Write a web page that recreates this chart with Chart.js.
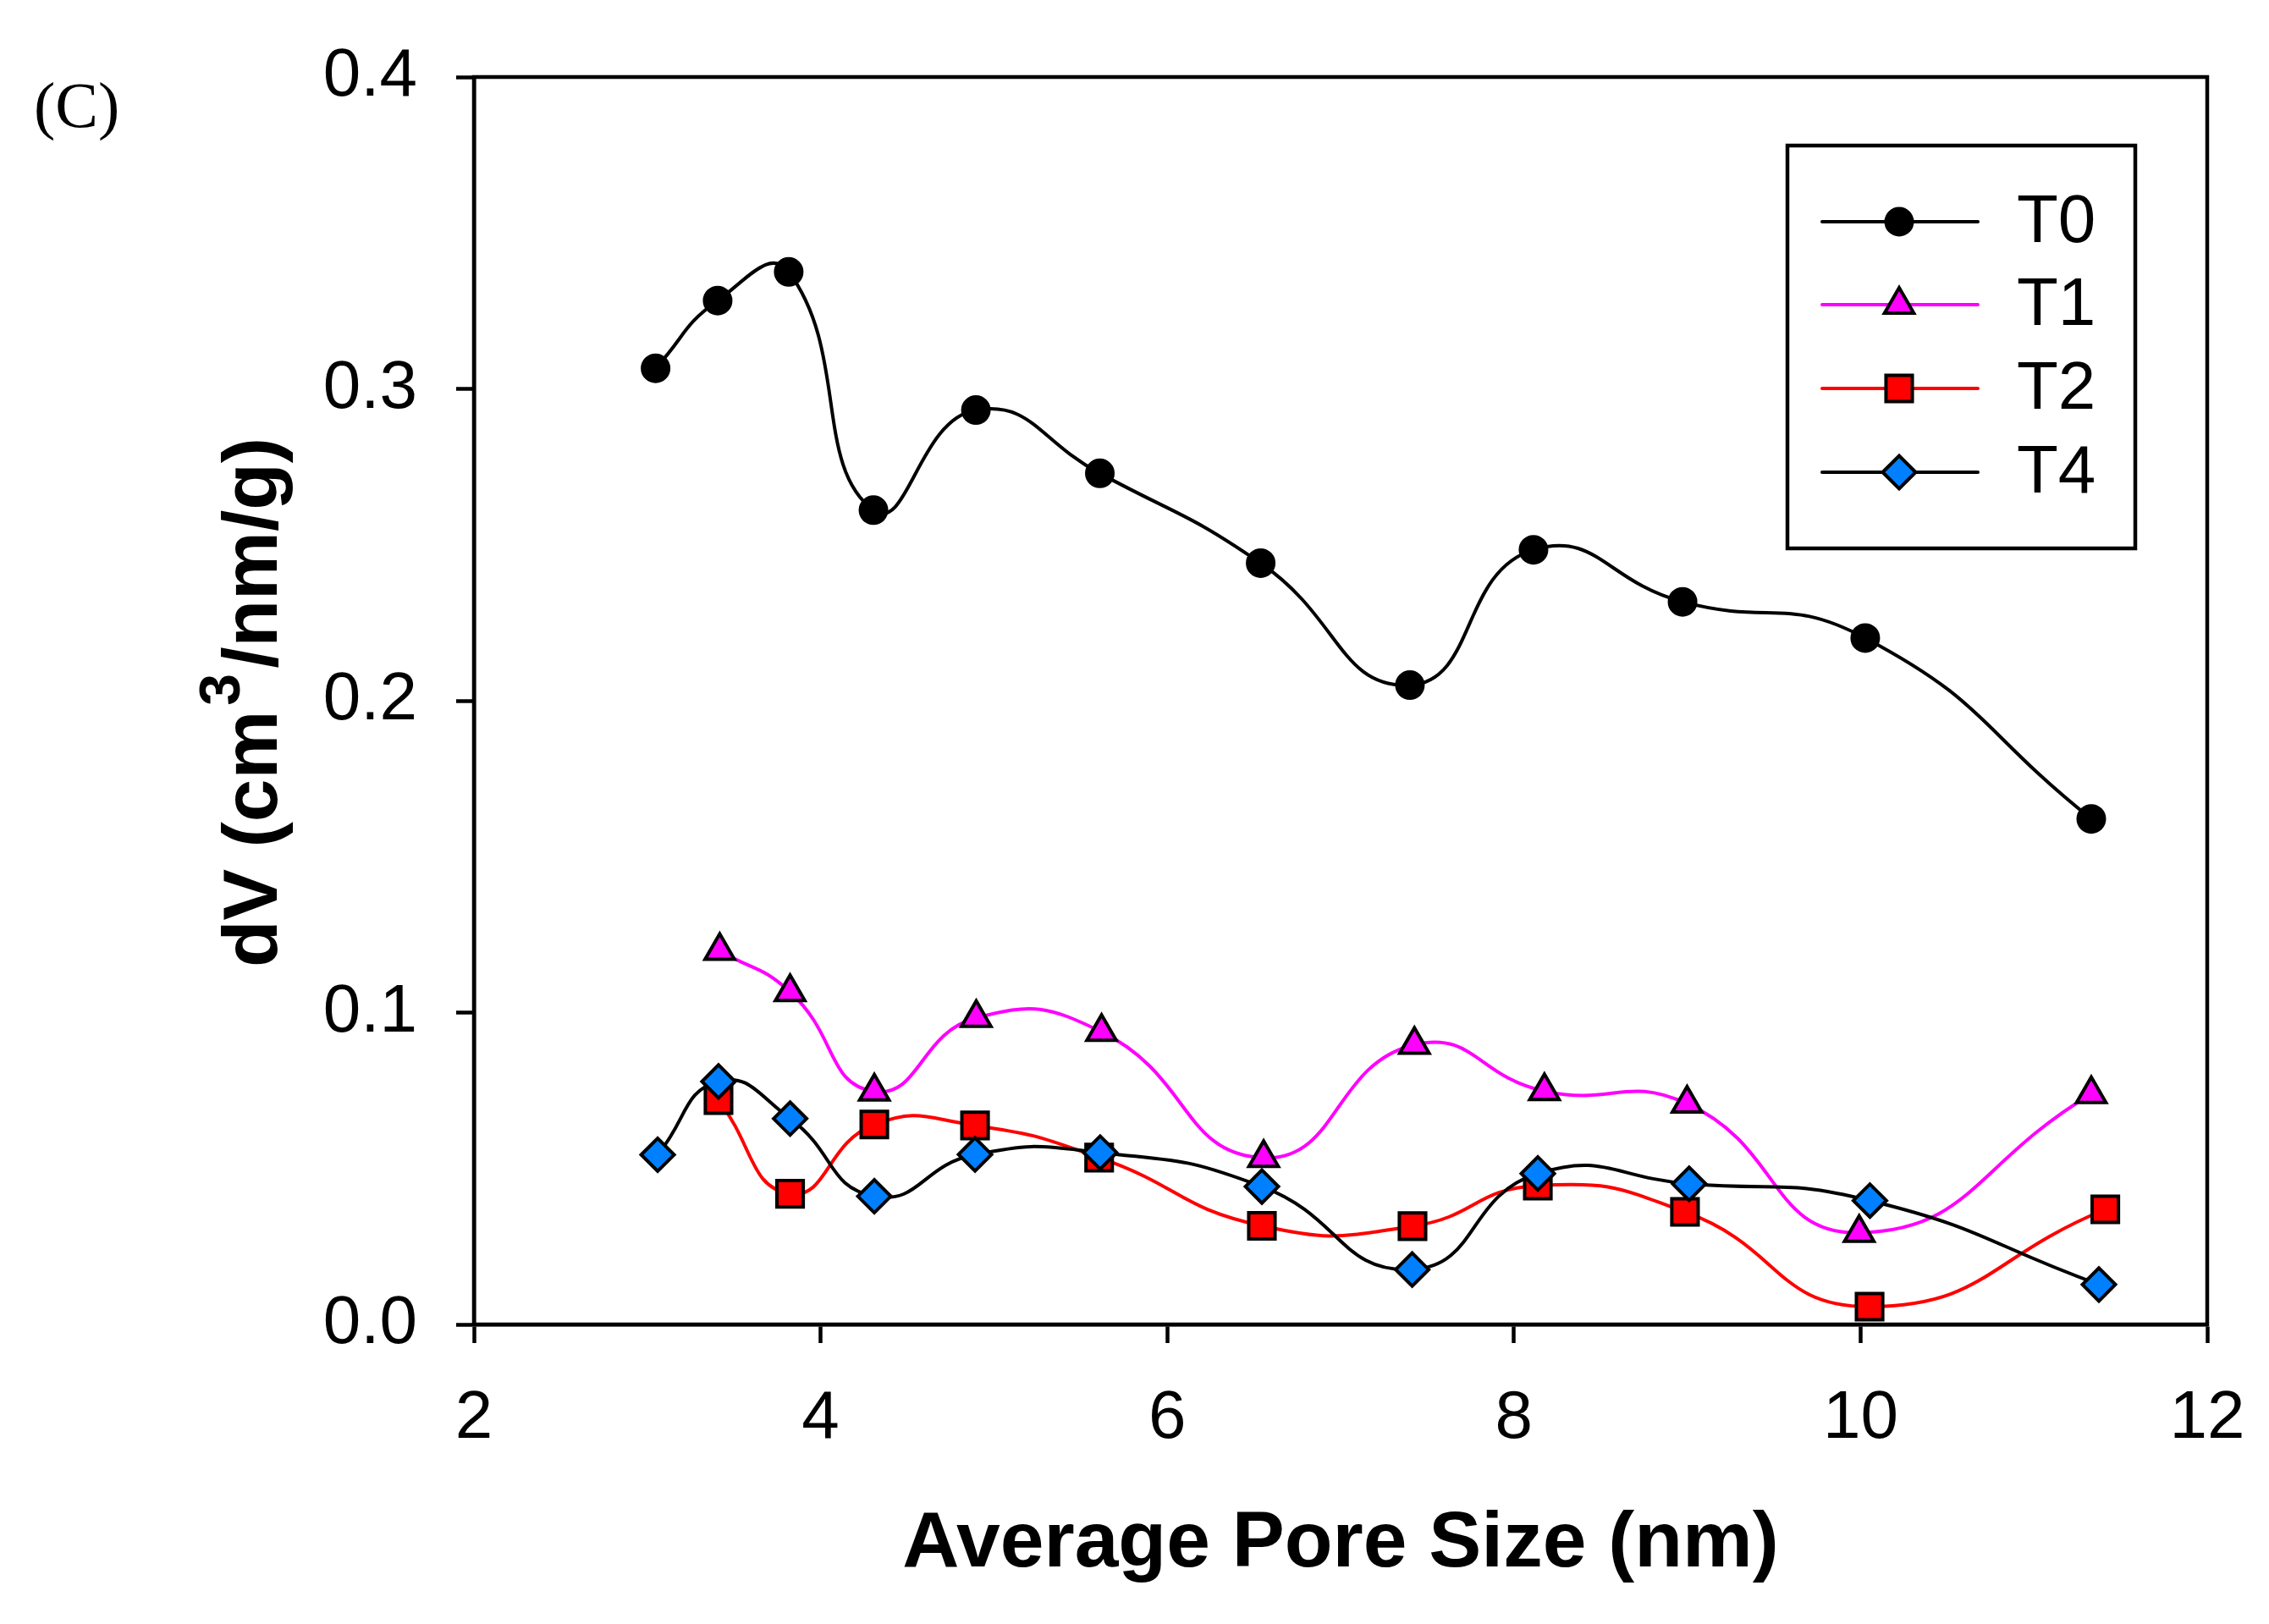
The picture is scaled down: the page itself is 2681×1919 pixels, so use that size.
<!DOCTYPE html>
<html>
<head>
<meta charset="utf-8">
<script src="https://cdn.jsdelivr.net/npm/chart.js@4/dist/chart.umd.min.js"></script>
<style>
  html, body { margin: 0; padding: 0; background: #fff; }
  #wrap { position: relative; width: 2681px; height: 1919px; }
  #panel { position: absolute; left: 40px; top: 86px; font-family: "Liberation Serif", "Times New Roman", serif; font-size: 76px; line-height: 1; color: #000; }
</style>
</head>
<body>
<div id="wrap">
  <canvas id="c" width="2681" height="1919"></canvas>
  <div id="panel">(C)</div>
</div>
<script>
// ---- data ----
const seriesNames = ['T0', 'T1', 'T2', 'T4'];

const xT0 = [3.048, 3.406, 3.816, 4.305, 4.896, 5.611, 6.539, 7.400, 8.113, 8.973, 10.027, 11.331];
const yT0 = [0.3066, 0.3283, 0.3375, 0.2611, 0.2932, 0.2729, 0.2441, 0.2050, 0.2484, 0.2317, 0.2201, 0.1621];

const xT1 = [3.418, 3.824, 4.310, 4.898, 5.621, 6.556, 7.426, 8.176, 8.999, 9.992, 11.331];
const yT1 = [0.1198, 0.1066, 0.0747, 0.0983, 0.0938, 0.0534, 0.0897, 0.0748, 0.0708, 0.0294, 0.0739];

const xT2 = [3.411, 3.824, 4.310, 4.891, 5.607, 6.546, 7.415, 8.138, 8.987, 10.052, 11.412];
const yT2 = [0.0719, 0.0419, 0.0641, 0.0638, 0.0535, 0.0316, 0.0315, 0.0445, 0.0361, 0.0057, 0.0369];

const xT4 = [3.060, 3.411, 3.824, 4.310, 4.891, 5.613, 6.546, 7.413, 8.138, 9.011, 10.054, 11.375];
const yT4 = [0.0544, 0.0779, 0.0660, 0.0411, 0.0545, 0.0551, 0.0442, 0.0176, 0.0484, 0.0451, 0.0397, 0.0128];

const xTickLabels = ['2', '4', '6', '8', '10', '12'];
const yTickLabels = ['0.0', '0.1', '0.2', '0.3', '0.4'];

const xTitle = 'Average Pore Size (nm)';
const yTitleParts = ['dV (cm', '3', '/nm/g)']; // middle part is a superscript

// ---- styles ----
const styles = [
  { line: '#000000', fill: '#000000', pointStyle: 'circle',   radius: 15.5 },
  { line: '#FF00FF', fill: '#FF00FF', pointStyle: 'triangle', radius: 20 },
  { line: '#FF0000', fill: '#FF0000', pointStyle: 'rect',     radius: 22 },
  { line: '#000000', fill: '#0080FF', pointStyle: 'rectRot',  radius: 19.5 }
];
const drawOrder = [4, 3, 2, 1]; // T4 on top

const xs = [xT0, xT1, xT2, xT4];
const ys = [yT0, yT1, yT2, yT4];

const FONT = "'Liberation Sans', Arial, Helvetica, sans-serif";

const datasets = seriesNames.map((name, k) => ({
  label: name,
  data: xs[k].map((x, i) => ({ x: x, y: ys[k][i] })),
  borderColor: styles[k].line,
  borderWidth: 4,
  backgroundColor: styles[k].fill,
  pointStyle: styles[k].pointStyle,
  pointRadius: styles[k].radius,
  pointHoverRadius: styles[k].radius,
  pointBackgroundColor: styles[k].fill,
  pointBorderColor: '#000000',
  pointBorderWidth: 4,
  tension: 0.5,
  fill: false,
  clip: false,
  order: drawOrder[k]
}));

const framePlugin = {
  id: 'frame',
  afterDraw(chart) {
    const { ctx, chartArea: a } = chart;
    ctx.save();
    ctx.strokeStyle = '#000';
    ctx.lineWidth = 4.5;
    ctx.strokeRect(a.left, a.top, a.right - a.left, a.bottom - a.top);
    ctx.restore();
  }
};

const yTitlePlugin = {
  id: 'yTitle',
  afterDraw(chart) {
    const ctx = chart.ctx;
    const a = chart.chartArea;
    const mainFont = 'bold 91px ' + FONT;
    const supFont = 'bold 68px ' + FONT;
    const gap = 6;
    ctx.save();
    ctx.fillStyle = '#000';
    ctx.textBaseline = 'alphabetic';
    ctx.textAlign = 'left';
    ctx.font = mainFont;
    const w0 = ctx.measureText(yTitleParts[0]).width;
    const w2 = ctx.measureText(yTitleParts[2]).width;
    ctx.font = supFont;
    const w1 = ctx.measureText(yTitleParts[1]).width;
    const total = w0 + gap + w1 + gap + w2;
    ctx.translate(327, (a.top + a.bottom) / 2 + 2);
    ctx.rotate(-Math.PI / 2);
    let x = -total / 2;
    ctx.font = mainFont;
    ctx.fillText(yTitleParts[0], x, 0);
    x += w0 + gap;
    ctx.font = supFont;
    ctx.fillText(yTitleParts[1], x, -44);
    x += w1 + gap;
    ctx.font = mainFont;
    ctx.fillText(yTitleParts[2], x, 0);
    ctx.restore();
  }
};

const legendPlugin = {
  id: 'boxLegend',
  afterDraw(chart) {
    const ctx = chart.ctx;
    const box = { left: 2112, top: 172, right: 2523, bottom: 648 };
    const rowY = [262, 360, 459, 558];
    ctx.save();
    ctx.fillStyle = '#fff';
    ctx.fillRect(box.left, box.top, box.right - box.left, box.bottom - box.top);
    ctx.strokeStyle = '#000';
    ctx.lineWidth = 4.5;
    ctx.strokeRect(box.left, box.top, box.right - box.left, box.bottom - box.top);
    seriesNames.forEach((name, k) => {
      const y = rowY[k];
      ctx.strokeStyle = styles[k].line;
      ctx.lineWidth = 4;
      ctx.lineCap = 'round';
      ctx.beginPath();
      ctx.moveTo(2153, y);
      ctx.lineTo(2337, y);
      ctx.stroke();
      ctx.fillStyle = styles[k].fill;
      ctx.strokeStyle = '#000';
      ctx.lineWidth = 4;
      ctx.lineCap = 'butt';
      ctx.lineJoin = 'miter';
      Chart.helpers.drawPoint(ctx, { pointStyle: styles[k].pointStyle, radius: styles[k].radius, rotation: 0, borderWidth: 4 }, 2244, y);
      ctx.fillStyle = '#000';
      ctx.font = '80px ' + FONT;
      ctx.textAlign = 'left';
      ctx.textBaseline = 'middle';
      ctx.fillText(name, 2383, y + 2);
    });
    ctx.restore();
  }
};

function zeroPad(s) { s.paddingLeft = 0; s.paddingRight = 0; s.paddingTop = 0; s.paddingBottom = 0; }

new Chart(document.getElementById('c'), {
  type: 'line',
  data: { datasets: datasets },
  options: {
    responsive: false,
    animation: false,
    devicePixelRatio: 1,
    layout: { padding: { left: 0, top: 91, right: 73, bottom: 0 } },
    plugins: { legend: { display: false }, tooltip: { enabled: false } },
    scales: {
      x: {
        type: 'linear',
        min: 2, max: 12,
        afterFit(s) { s.height = 354; zeroPad(s); },
        ticks: {
          stepSize: 2,
          padding: 42,
          color: '#000',
          font: { family: FONT, size: 80 },
          maxRotation: 0,
          callback: (v) => xTickLabels[Math.round((v - 2) / 2)]
        },
        grid: { display: true, drawOnChartArea: false, drawTicks: true, tickLength: 22, tickWidth: 4.5, tickColor: '#000', color: '#000' },
        border: { display: true, color: '#000', width: 4.5 },
        title: {
          display: true, text: xTitle, color: '#000',
          font: { family: FONT, size: 93, weight: 'bold' },
          padding: { top: 0, bottom: 38 }
        }
      },
      y: {
        type: 'linear',
        min: 0, max: 0.4,
        afterFit(s) { s.width = 560; zeroPad(s); },
        ticks: {
          stepSize: 0.1,
          padding: 46,
          color: '#000',
          font: { family: FONT, size: 80 },
          callback: (v) => yTickLabels[Math.round(v * 10)]
        },
        grid: { display: true, drawOnChartArea: false, drawTicks: true, tickLength: 21, tickWidth: 4.5, tickColor: '#000', color: '#000' },
        border: { display: true, color: '#000', width: 4.5 },
        title: { display: false }
      }
    }
  },
  plugins: [framePlugin, yTitlePlugin, legendPlugin]
});
</script>
</body>
</html>
